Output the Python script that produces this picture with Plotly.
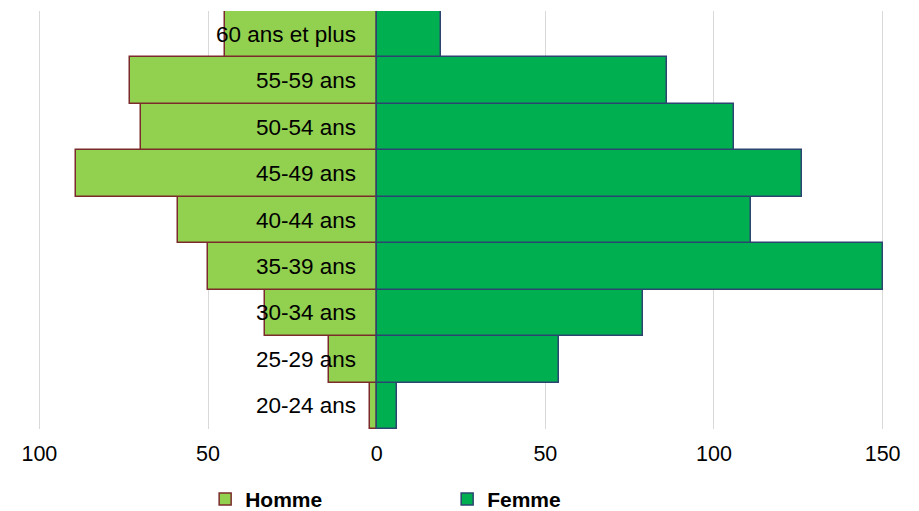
import plotly.graph_objects as go

# Age groups, bottom to top
age_groups = ["20-24 ans", "25-29 ans", "30-34 ans", "35-39 ans", "40-44 ans",
              "45-49 ans", "50-54 ans", "55-59 ans", "60 ans et plus"]
hommes = [2, 14, 33, 50, 59, 89, 70, 73, 45]
femmes = [6, 54, 79, 150, 111, 126, 106, 86, 19]

tick_vals = [-100, -50, 0, 50, 100, 150]
tick_text = ["100", "50", "0", "50", "100", "150"]

FONT = "Liberation Sans, Arial, Helvetica, sans-serif"

fig = go.Figure()
fig.add_trace(go.Bar(
    y=age_groups, x=[-v for v in hommes], orientation="h", name="Homme",
    marker=dict(color="#92D050", line=dict(color="#7B2B2B", width=1.5)),
    customdata=hommes, hovertemplate="%{y}: %{customdata}<extra>Homme</extra>",
))
fig.add_trace(go.Bar(
    y=age_groups, x=femmes, orientation="h", name="Femme",
    marker=dict(color="#00B050", line=dict(color="#2B4570", width=1.5)),
    hovertemplate="%{y}: %{x}<extra>Femme</extra>",
))

# Age labels sit just left of the centre line
for g in age_groups:
    fig.add_annotation(x=0, y=g, xref="x", yref="y", text=g, showarrow=False,
                       xanchor="right", xshift=-19,
                       font=dict(size=22.5, color="#000000", family=FONT))

fig.update_layout(
    width=919, height=511,
    margin=dict(l=36, r=33, t=11, b=82, autoexpand=False),
    paper_bgcolor="white", plot_bgcolor="white",
    barmode="relative", bargap=0,
    font=dict(family=FONT, size=21.5, color="#000000"),
    showlegend=True,
    legend=dict(orientation="h", x=0.199, xanchor="left",
                yref="container", y=0.023, yanchor="middle",
                entrywidth=197, entrywidthmode="pixels",
                font=dict(size=21, color="#000000", family=FONT, weight="bold"),
                bgcolor="rgba(0,0,0,0)"),
    xaxis=dict(range=[-101, 151], tickvals=tick_vals, ticktext=tick_text,
               showgrid=True, gridcolor="#D9D9D9", gridwidth=1, zeroline=False,
               showline=False, ticks="", tickfont=dict(size=21.5),
               ticklabelstandoff=9, automargin=False),
    yaxis=dict(showticklabels=False, showgrid=False, zeroline=False, showline=False,
               ticks="", automargin=False),
)

fig.write_html("out.html")
